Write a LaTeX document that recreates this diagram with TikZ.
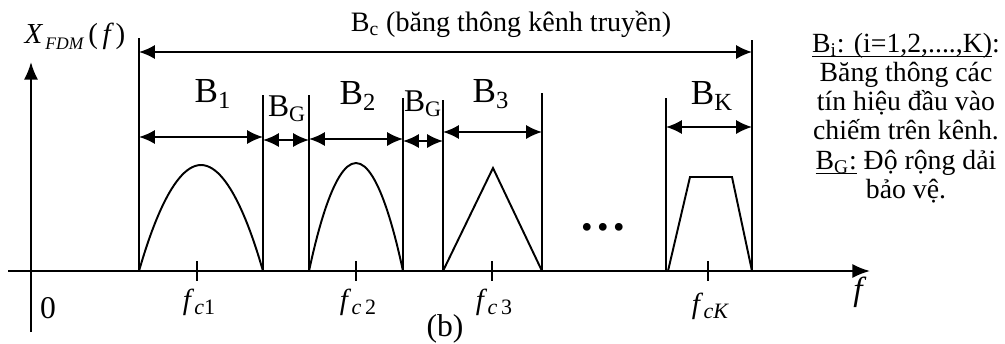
\documentclass[tikz,border=0pt]{standalone}
\usepackage{fontspec}
\setmainfont{Liberation Serif}
\usetikzlibrary{arrows.meta}

\newcommand{\fsz}[1]{\fontsize{#1}{#1}\selectfont}
\newcommand{\fc}[1]{{\itshape f}\raisebox{-0.4ex}{\fsz{12.5}\itshape\,c\upshape #1}}
\newcommand{\undl}[1]{\setbox0=\hbox{#1}\rlap{\rule[-2.6pt]{\wd0}{0.6pt}}\box0\relax}

\begin{document}
\begin{tikzpicture}[x=0.02cm, y=-0.02cm,
  ln/.style={line width=1.1pt},
  dim/.style={ln, {Latex[length=9pt,width=8pt]}-{Latex[length=9pt,width=8pt]}},
  axis/.style={ln, -{Latex[length=10pt,width=8pt]}},
  lbl/.style={font=\fsz{20}, inner sep=0pt},
  glbl/.style={font=\fsz{18}, inner sep=0pt},
  flbl/.style={font=\fsz{16.5}, inner sep=0pt}
]
\useasboundingbox (0,0) rectangle (1005,343);

% axes
\coordinate (xs) at (8,271);
\coordinate (xe) at (870,271);
\coordinate (ys) at (31,332);
\coordinate (ye) at (31,62);
\draw[axis] (xs) -- (xe);
\draw[axis] (ys) -- (ye);
\node[flbl] (ylab) at (75,36) {{\itshape X}\raisebox{-0.45ex}{\fsz{10}\itshape\,FDM}\,(\,{\itshape f}\,)};
\node[flbl, font=\fsz{18}] (zero) at (48,308) {0};
\node[flbl, font=\fsz{19}\itshape] (xlab) at (858,292) {f};

% band edges
\foreach \n/\x/\t in {e0/139/38, e1/263/95, e2/309/95, e3/403/98, e4/443/100, e5/542/93, e6/666/98, e7/752/40} {
  \coordinate (\n) at (\x,271);
  \coordinate (\n t) at (\x,\t);
  \draw[ln] (\n t) -- (\n);
}

% widths
\foreach \a/\b/\y in {e0/e1/137, e1/e2/140, e2/e3/139, e3/e4/141, e4/e5/132, e6/e7/127, e0/e7/52}
  \draw[dim] (\a |- 0,\y) -- (\b |- 0,\y);

\node[lbl] (b1) at (213,94) {B\textsubscript{1}};
\node[glbl] (g1) at (287,109) {B\textsubscript{G}};
\node[lbl] (b2) at (358,96) {B\textsubscript{2}};
\node[glbl] (g2) at (423,104) {B\textsubscript{G}};
\node[lbl] (b3) at (491,94) {B\textsubscript{3}};
\node[lbl] (bk) at (712,96) {B\textsubscript{K}};
\node[font=\fsz{16}, inner sep=0pt] (bc) at (511,24) {B\textsubscript{c} (băng thông kênh truyền)};

% spectra
\draw[ln] (e0) parabola bend (201,165) (e1);
\draw[ln] (e2) parabola bend (356,163) (e3);
\draw[ln] (e4) -- (493,168) -- (e5);
\draw[ln] (668,271) -- (690,177) -- (732,177) -- (e7);
\node[font=\fsz{27}\bfseries, inner sep=0pt] (dots) at (603,227) {…};

% carriers
\foreach \n/\x in {1/197, 2/356, 3/492, K/708} {
  \coordinate (t\n) at (\x,261);
  \draw[ln] (t\n) -- ++(0,20);
}
\node[flbl] (f1) at (199,302) {\fc{1}};
\node[flbl] (f2) at (358,302) {\fc{\,2}};
\node[flbl] (f3) at (494,302) {\fc{\,3}};
\node[flbl] (fk) at (710,306) {\fc{\itshape K}};
\node[flbl, font=\fsz{18}] (cap) at (445,329) {(b)};

% legend
\node[font=\fontsize{15.8}{16.6}\selectfont, align=center, inner sep=0pt] (note) at (906,118) {%
  \undl{B\textsubscript{i}: (i=1,2,....,K)}:\\
  Băng thông các\\
  tín hiệu đầu vào\\
  chiếm trên kênh.\\
  \undl{B\textsubscript{G}:} Độ rộng dải\\
  bảo vệ.};
\end{tikzpicture}
\end{document}
